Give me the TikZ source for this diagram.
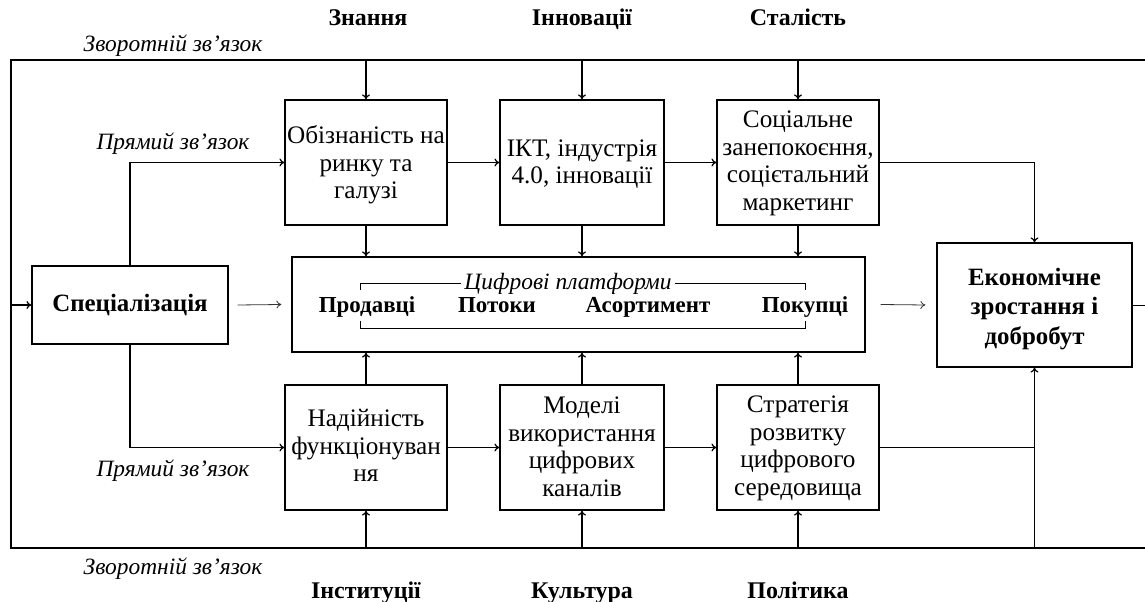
\documentclass[tikz,border=0pt]{standalone}
\usepackage{fontspec}
\setmainfont{Liberation Serif}
\usetikzlibrary{arrows.meta}
\newcommand\mybxdown[2]{\raisebox{-#1}[\height][\depth]{\begin{tabular}{@{}c@{}}#2\end{tabular}}}
\begin{document}
\begin{tikzpicture}[x=1bp,y=-1bp,
  box/.style={draw, line width=1.2bp, align=center, inner sep=0pt, font=\fontsize{25.3}{27.8}\selectfont},
  bbox/.style={box, font=\bfseries\fontsize{25}{29.5}\selectfont},
  arr/.style={line width=1.2bp, -{To[length=5bp,width=8bp]}},
  tarr/.style={line width=0.8bp, black!80, -{To[length=5bp,width=8bp]}},
  ln/.style={line width=1.2bp},
  tln/.style={line width=0.8bp},
  head/.style={font=\bfseries\fontsize{24}{28}\selectfont, inner sep=0pt, anchor=base},
  itl/.style={font=\itshape\fontsize{23.5}{28}\selectfont, inner sep=0pt, anchor=base},
  plab/.style={font=\bfseries\fontsize{23}{28}\selectfont, inner sep=0pt, anchor=base},
  top/.style={minimum width=162bp, minimum height=125bp},
]
\useasboundingbox (0,0) rectangle (1145,602);

% frame coordinates
\coordinate (TL) at (11,60);
\coordinate (TR) at (1145,60);
\coordinate (BL) at (11,548);
\coordinate (BR) at (1145,548);

% boxes
\node[bbox, minimum width=196bp, minimum height=78bp] (spec) at (130,305) {Спеціалізація};
\node[box, top] (b1) at (366,162.5) {\mybxdown{3bp}{Обізнаність на\\ринку та\\галузі}};
\node[box, top, minimum width=164bp] (b2) at (582,162.5) {\mybxdown{2bp}{ІКТ, індустрія\\4.0, інновації}};
\node[box, top] (b3) at (798,162.5) {\mybxdown{1bp}{Соціальне\\занепокоєння,\\соцієтальний\\маркетинг}};
\node[box, top] (b4) at (366,447.5) {\mybxdown{1bp}{Надійність\\функціонуван\\ня}};
\node[box, top, minimum width=164bp] (b5) at (582,447.5) {\mybxdown{2bp}{Моделі\\використання\\цифрових\\каналів}};
\node[box, top] (b6) at (798,447.5) {\mybxdown{1bp}{Стратегія\\розвитку\\цифрового\\середовища}};
\node[box, minimum width=573bp, minimum height=95bp] (plat) at (578.5,304.5) {};
\node[bbox, minimum width=195bp, minimum height=124bp] (econ) at (1034.5,305) {\mybxdown{4bp}{Економічне\\зростання і\\добробут}};

% platform inner content
\coordinate (brTL) at (360,290);
\coordinate (brTLc) at (360,283);
\coordinate (brTRc) at (805,283);
\coordinate (brTR) at (805,290);
\coordinate (brBL) at (360,321);
\coordinate (brBLc) at (360,328);
\coordinate (brBRc) at (805,328);
\coordinate (brBR) at (805,321);
\draw[tln] (brTL) -- (brTLc) -- (brTRc) -- (brTR);
\draw[tln] (brBL) -- (brBLc) -- (brBRc) -- (brBR);
\node[itl, fill=white, inner xsep=3bp, inner ysep=1bp] (ptitle) at (568,290) {Цифрові платформи};
\node[plab] (p1) at (367,313) {Продавці};
\node[plab] (p2) at (497,313) {Потоки};
\node[plab] (p3) at (648,313) {Асортимент};
\node[plab] (p4) at (805,313) {Покупці};

% header / footer labels
\node[head] (h1) at (368,26) {Знання};
\node[head] (h2) at (582,26) {Інновації};
\node[head] (h3) at (798,26) {Сталість};
\node[head] (f1) at (366,598) {Інституції};
\node[head] (f2) at (582,598) {Культура};
\node[head] (f3) at (798,598) {Політика};
\node[itl] (fbt) at (173,52) {Зворотній зв’язок};
\node[itl] (fbb) at (173,574) {Зворотній зв’язок};
\node[itl] (pzt) at (173,150) {Прямий зв’язок};
\node[itl] (pzb) at (173,476) {Прямий зв’язок};

% feedback frame
\draw[ln] (TR) -- (TL) -- (BL) -- (BR);
\draw[arr] (BL |- spec.west) -- (spec.west);

% top inputs
\draw[arr] (b1.north |- TL) -- (b1.north);
\draw[arr] (b2.north |- TL) -- (b2.north);
\draw[arr] (b3.north |- TL) -- (b3.north);
% bottom inputs
\draw[arr] (b4.south |- BL) -- (b4.south);
\draw[arr] (b5.south |- BL) -- (b5.south);
\draw[arr] (b6.south |- BL) -- (b6.south);
\draw[arr] (econ.south |- BL) -- (econ.south);

% direct links
\draw[arr] (spec.north) |- (b1.west);
\draw[arr] (spec.south) |- (b4.west);

% chains
\draw[arr] (b1.east) -- (b2.west);
\draw[arr] (b2.east) -- (b3.west);
\draw[arr] (b4.east) -- (b5.west);
\draw[arr] (b5.east) -- (b6.west);

% to platform
\draw[arr] (b1.south) -- (b1.south |- plat.north);
\draw[arr] (b2.south) -- (b2.south |- plat.north);
\draw[arr] (b3.south) -- (b3.south |- plat.north);
\draw[arr] (b4.north) -- (b4.north |- plat.south);
\draw[arr] (b5.north) -- (b5.north |- plat.south);
\draw[arr] (b6.north) -- (b6.north |- plat.south);

% to economy
\draw[arr] (b3.east) -| (econ.north);
\draw[ln] (b6.east) -- (b6.east -| econ.south);

% thin arrows
\draw[tarr] ([xshift=9bp]spec.east) -- ([xshift=-10bp]plat.west);
\draw[tarr] ([xshift=15bp]plat.east) -- ([xshift=-11bp]econ.west);
\draw[tln] (econ.east) -- (econ.east -| TR);
\end{tikzpicture}
\end{document}
